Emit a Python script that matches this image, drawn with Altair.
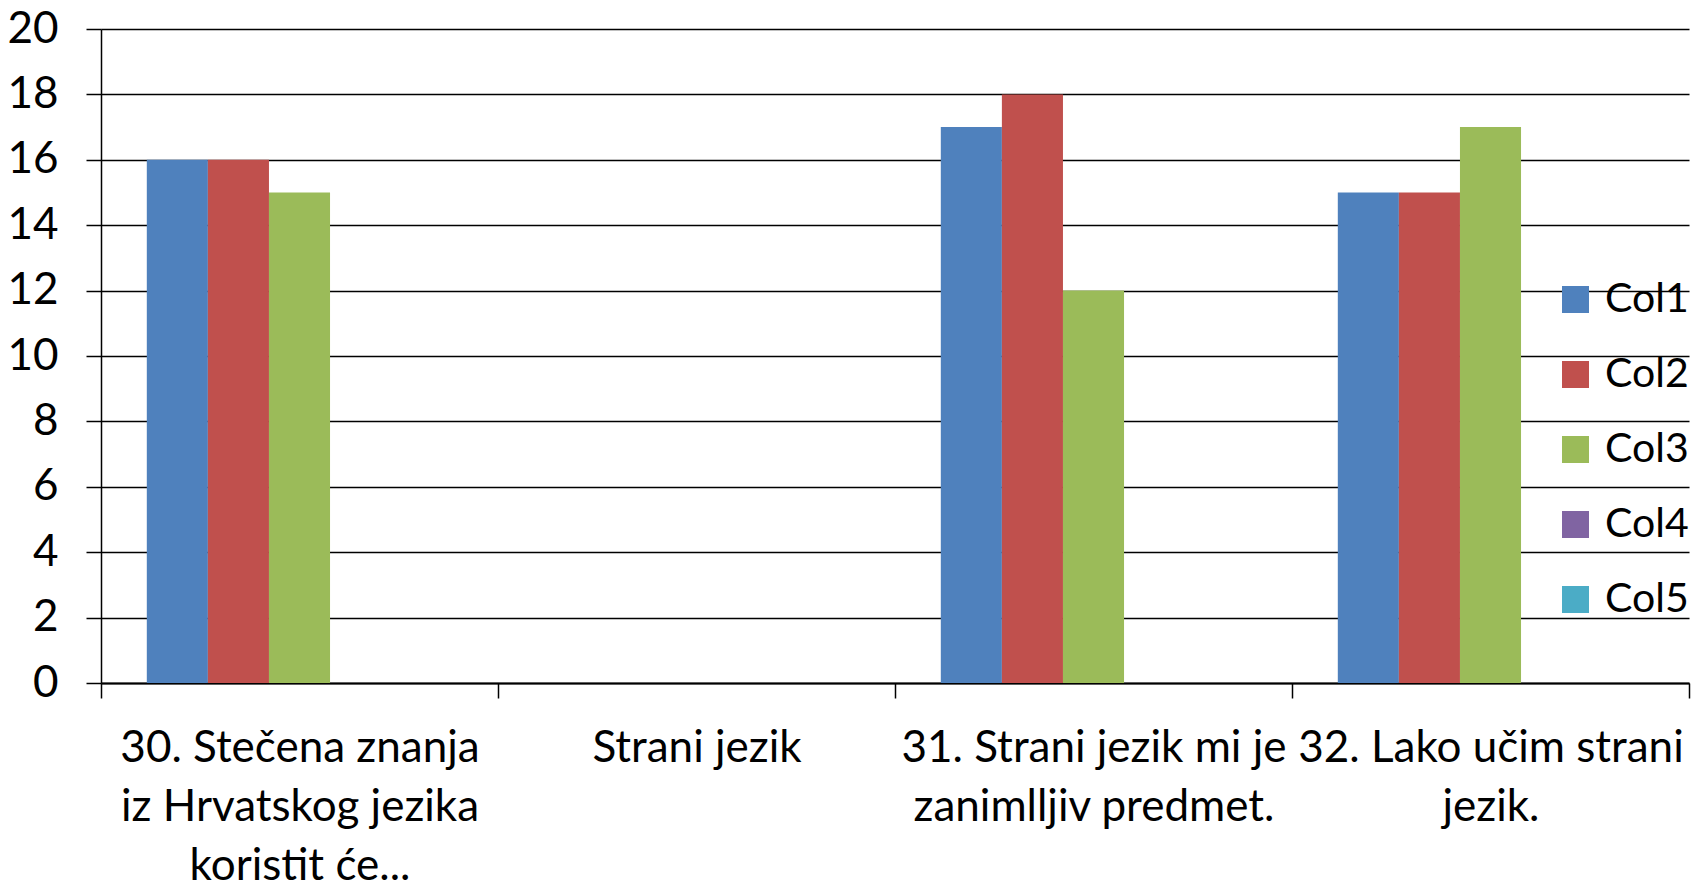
import altair as alt
import pandas as pd

categories = [
    "30. Stečena znanja\niz Hrvatskog jezika\nkoristit će...",
    "Strani jezik",
    "31. Strani jezik mi je\nzanimlljiv predmet.",
    "32. Lako učim strani\njezik.",
]
series = ["Col1", "Col2", "Col3", "Col4", "Col5"]
col1 = [16, None, 17, 15]
col2 = [16, None, 18, 15]
col3 = [15, None, 12, 17]
col4 = [None, None, None, None]
col5 = [None, None, None, None]
colors = ["#4F81BD", "#C0504D", "#9BBB59", "#8064A2", "#4BACC6"]
y_ticks = [0, 2, 4, 6, 8, 10, 12, 14, 16, 18, 20]

rows = []
for s, vals in zip(series, [col1, col2, col3, col4, col5]):
    for c, v in zip(categories, vals):
        rows.append({"cat": c, "series": s, "value": v})
df = pd.DataFrame(rows)

FONT = "Lato"
FS = 44

chart = alt.Chart(df).mark_bar().encode(
    x=alt.X("cat:N", sort=categories,
            scale=alt.Scale(domain=categories, paddingInner=0, paddingOuter=0),
            axis=alt.Axis(title=None, labelAngle=0, tickBand="extent",
                          labelExpr="split(datum.label, '\\n')",
                          labelFont=FONT, labelFontSize=FS, labelColor="black",
                          labelLineHeight=59, labelPadding=28, labelLimit=0,
                          labelOverlap=False, labelBound=False,
                          tickSize=15, tickColor="black", tickWidth=1.5,
                          domainColor="black", domainWidth=2, grid=False)),
    xOffset=alt.XOffset("series:N",
                        scale=alt.Scale(domain=series, paddingInner=0, paddingOuter=0.75)),
    y=alt.Y("value:Q",
            scale=alt.Scale(domain=[0, 20], nice=False),
            axis=alt.Axis(title=None, values=y_ticks, labelFont=FONT, labelFontSize=FS,
                          labelColor="black", labelPadding=28, tickSize=15,
                          tickColor="black", tickWidth=1.5, domainColor="black",
                          domainWidth=1.5, gridColor="black", gridWidth=1.5,
                          gridOpacity=1)),
    color=alt.Color("series:N",
                    scale=alt.Scale(domain=series, range=colors),
                    legend=alt.Legend(title=None, orient="none", legendX=1454, legendY=250,
                                      symbolType="square", symbolSize=729,
                                      symbolStrokeWidth=0, symbolOpacity=1,
                                      labelFont=FONT, labelFontSize=41,
                                      labelColor="black", labelOffset=9,
                                      rowPadding=33)),
).properties(
    width=1588,
    height=654,
    autosize=alt.AutoSizeParams(type="none"),
    padding={"left": 93, "top": 21, "right": 3, "bottom": 200},
).configure_view(stroke=None)

chart.save("out.html", embed_options={"renderer": "svg", "actions": False})
